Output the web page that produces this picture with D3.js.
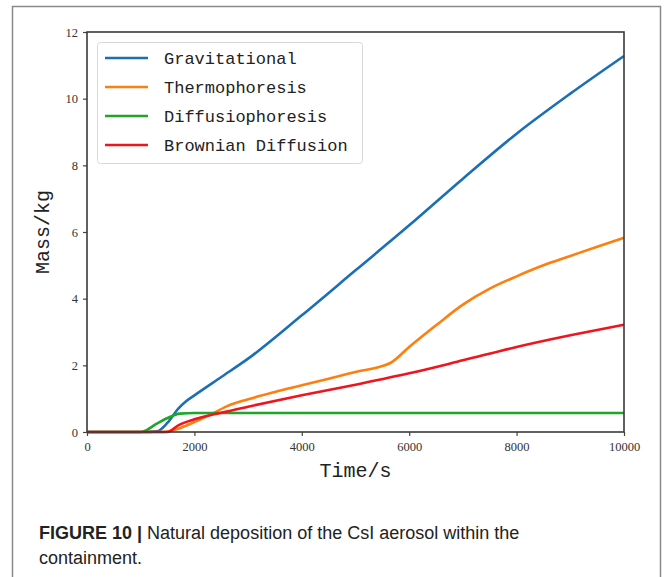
<!DOCTYPE html>
<html>
<head>
<meta charset="utf-8">
<script src="https://cdn.jsdelivr.net/npm/d3@7"></script>
<style>
  body { margin: 0; background: #fff; }
  svg { display: block; }
</style>
</head>
<body>
<div id="chart"></div>
<script>
// values (time in s, mass in kg)
const seriesNames = ['Gravitational', 'Thermophoresis', 'Diffusiophoresis', 'Brownian Diffusion'];
const seriesColors = ['#1a6fb5', '#ff7f0e', '#1ea52a', '#f0141e'];

const gravTime = [0, 1000, 1300, 1500, 1700, 1850, 2000, 2500, 3000, 4000, 5000, 6000, 7000, 8000, 9000, 10000];
const gravMass = [0, 0, 0.02, 0.28, 0.7, 0.93, 1.1, 1.65, 2.2, 3.5, 4.85, 6.2, 7.6, 8.95, 10.15, 11.28];

const thermTime = [0, 1000, 1400, 1700, 2000, 2300, 2600, 3000, 3500, 4000, 4500, 5000, 5500, 5650, 6000, 6500, 7000, 7500, 8000, 8500, 9000, 9500, 10000];
const thermMass = [0, 0, 0, 0.1, 0.3, 0.52, 0.77, 0.98, 1.2, 1.4, 1.6, 1.8, 1.98, 2.07, 2.55, 3.2, 3.82, 4.3, 4.67, 5.0, 5.28, 5.56, 5.83];

const diffTime = [0, 1000, 1100, 1300, 1500, 1730, 2000, 3000, 10000];
const diffMass = [0, 0, 0.05, 0.25, 0.42, 0.55, 0.57, 0.57, 0.57];

const brownTime = [0, 1000, 1500, 1700, 2000, 2500, 3000, 4000, 5000, 6000, 7000, 8000, 9000, 10000];
const brownMass = [0, 0, 0, 0.2, 0.38, 0.58, 0.76, 1.1, 1.42, 1.76, 2.15, 2.55, 2.9, 3.22];

const xTicks = [0, 2000, 4000, 6000, 8000, 10000];
const yTicks = [0, 2, 4, 6, 8, 10, 12];

const series = [
  {name: seriesNames[0], color: seriesColors[0], t: gravTime, v: gravMass},
  {name: seriesNames[1], color: seriesColors[1], t: thermTime, v: thermMass},
  {name: seriesNames[2], color: seriesColors[2], t: diffTime, v: diffMass},
  {name: seriesNames[3], color: seriesColors[3], t: brownTime, v: brownMass}
];

const width = 664;
const height = 577;
const plotLeft = 87, plotRight = 624, plotTop = 32, plotBottom = 432;

const svg = d3.select('#chart').append('svg').attr('width', width).attr('height', height);

// outer figure frame (open at the bottom)
svg.append('path')
  .attr('d', `M12.5,${height} V6.5 H660.5 V${height}`)
  .attr('fill', 'none').attr('stroke', '#8a8a8a').attr('stroke-width', 1.5);

const x = d3.scaleLinear().domain([0, 10000]).range([plotLeft, plotRight]);
const y = d3.scaleLinear().domain([0, 12]).range([plotBottom, plotTop]);

const line = d3.line().x(d => x(d[0])).y(d => y(d[1])).curve(d3.curveMonotoneX);

const plot = svg.append('g');
plot.selectAll('path.series')
  .data(series)
  .join('path')
  .attr('class', 'series')
  .attr('fill', 'none')
  .attr('stroke', d => d.color)
  .attr('stroke-width', 2.6)
  .attr('d', d => line(d.t.map((t, i) => [t, d.v[i]])));

// axes
const xAxis = svg.append('g').attr('transform', `translate(0,${plotBottom})`)
  .call(d3.axisBottom(x).tickValues(xTicks).tickFormat(d3.format('d')).tickSize(4).tickSizeOuter(0).tickPadding(6));
const yAxis = svg.append('g').attr('transform', `translate(${plotLeft},0)`)
  .call(d3.axisLeft(y).tickValues(yTicks).tickFormat(d3.format('d')).tickSize(4).tickSizeOuter(0).tickPadding(5));
[xAxis, yAxis].forEach(g => {
  g.select('.domain').remove();
  g.selectAll('line').attr('stroke', '#444').attr('stroke-width', 1.2);
  g.selectAll('text').attr('font-family', 'Liberation Serif').attr('font-size', 12.5).attr('fill', '#333');
});

// plot frame
svg.append('rect')
  .attr('x', plotLeft).attr('y', plotTop).attr('width', plotRight - plotLeft).attr('height', plotBottom - plotTop)
  .attr('fill', 'none').attr('stroke', '#3a3a3a').attr('stroke-width', 1.6);

// axis titles
svg.append('text').attr('x', (plotLeft + plotRight) / 2).attr('y', 477)
  .attr('text-anchor', 'middle').attr('font-family', 'Liberation Mono').attr('font-size', 20).attr('fill', '#222')
  .text('Time/s');
svg.append('text').attr('transform', `translate(49,${(plotTop + plotBottom) / 2}) rotate(-90)`)
  .attr('text-anchor', 'middle').attr('font-family', 'Liberation Mono').attr('font-size', 20).attr('fill', '#222')
  .text('Mass/kg');

// legend
const legend = svg.append('g');
legend.append('rect').attr('x', 97.5).attr('y', 42.5).attr('width', 265).attr('height', 121).attr('rx', 3)
  .attr('fill', '#fff').attr('stroke', '#d8d8d8').attr('stroke-width', 1);
const rows = legend.selectAll('g.row').data(series).join('g').attr('class', 'row')
  .attr('transform', (d, i) => `translate(0,${58 + i * 29})`);
rows.append('line').attr('x1', 105).attr('x2', 148).attr('stroke', d => d.color).attr('stroke-width', 2.6);
rows.append('text').attr('x', 164).attr('y', 6).attr('font-family', 'Liberation Mono').attr('font-size', 17)
  .attr('fill', '#222').text(d => d.name);

// caption
const cap = svg.append('text').attr('font-family', 'Liberation Sans').attr('font-size', 18).attr('fill', '#222');
const l1 = cap.append('tspan').attr('x', 39).attr('y', 539);
l1.append('tspan').attr('font-weight', 'bold').text('FIGURE 10 | ');
l1.append('tspan').text('Natural deposition of the CsI aerosol within the');
cap.append('tspan').attr('x', 39).attr('y', 564).text('containment.');
</script>
</body>
</html>
